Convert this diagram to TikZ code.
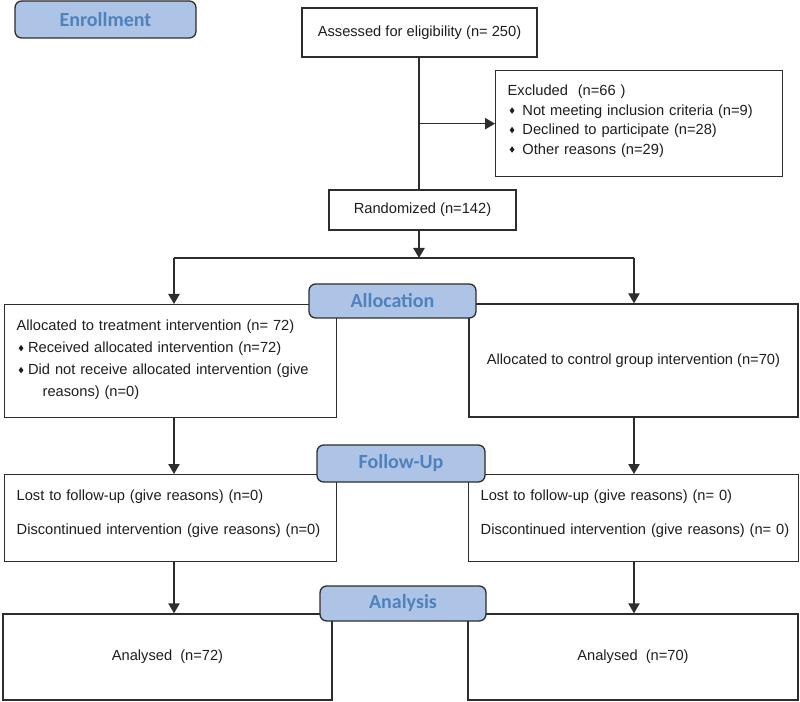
\documentclass[tikz,border=0pt]{standalone}
\usepackage{fontspec}
\setmainfont{Liberation Sans}
\newfontfamily\labelfont{Carlito}
\usetikzlibrary{arrows.meta}
\definecolor{linec}{RGB}{45,45,45}
\definecolor{labfill}{RGB}{174,196,230}
\definecolor{labtext}{RGB}{79,129,189}
\definecolor{txt}{RGB}{30,30,30}
\newcommand\dmd{\tikz[baseline=0pt]\fill[txt] (-1.8pt,3.4pt) -- (0pt,5.8pt) -- (1.8pt,3.4pt) -- (0pt,1.0pt) -- cycle;}
\begin{document}
\begin{tikzpicture}[x=0.75pt,y=-0.75pt,
  phase/.style={draw=linec, line width=1pt, fill=labfill, rounded corners=5pt, text=labtext,
    font=\labelfont\bfseries\fontsize{15pt}{17pt}\selectfont, inner sep=0pt},
  cbox/.style={draw=linec, line width=1pt, fill=white, text=txt,
    font=\fontsize{11pt}{13pt}\selectfont, inner sep=0pt},
  lbox/.style={draw=linec, line width=1pt, fill=white, text=txt, anchor=north west,
    inner xsep=9pt, inner ysep=0pt, align=left},
  conn/.style={draw=linec, line width=1pt},
  arr/.style={draw=linec, line width=1pt, -{Triangle[length=7.5pt,width=8.5pt]}}]
\useasboundingbox (0,0) rectangle (800,702);

% boxes
\node[cbox, minimum width=176.25pt, minimum height=36.75pt] (assess) at (419.5,32.5) {Assessed for eligibility (n= 250)};
\node[lbox, font=\fontsize{11pt}{14.6pt}\selectfont, text width=197.25pt, text height=18.75pt, text depth=60.75pt] (excl) at (495,70)
 {Excluded\ \ (n=66\ )\\
  \hspace*{1.5pt}\dmd\hspace{6pt}Not meeting inclusion criteria (n=9)\\
  \hspace*{1.5pt}\dmd\hspace{6pt}Declined to participate (n=28)\\
  \hspace*{1.5pt}\dmd\hspace{6pt}Other reasons (n=29)};
\node[cbox, minimum width=140.25pt, minimum height=30pt] (rand) at (422.5,210) {Randomized (n=142)};

\node[lbox, font=\fontsize{11pt}{16.5pt}\selectfont, text width=231pt, text height=19.5pt, text depth=65.25pt] (allocL) at (4,304)
 {\mbox{Allocated to treatment intervention (n= 72)}\\
  \hspace*{1.5pt}\dmd\hspace{3.5pt}\mbox{Received allocated intervention (n=72)}\\
  \hspace*{1.5pt}\dmd\hspace{3.5pt}\mbox{Did not receive allocated intervention (give}\\
  \hspace*{19.5pt}reasons) (n=0)};
\node[cbox, minimum width=246.75pt, minimum height=84.75pt] (allocR) at (633.5,360.5) {Allocated to control group intervention (n=70)};

\node[lbox, font=\fontsize{11pt}{25.5pt}\selectfont, text width=231pt, text height=19.5pt, text depth=45.75pt] (fuL) at (4,474)
 {\mbox{Lost to follow-up (give reasons) (n=0)}\\
  \mbox{Discontinued intervention (give reasons) (n=0)}};
\node[lbox, font=\fontsize{11pt}{25.5pt}\selectfont, text width=229.5pt, text height=19.5pt, text depth=45.75pt] (fuR) at (468,474)
 {\mbox{Lost to follow-up (give reasons) (n= 0)}\\
  \mbox{Discontinued intervention (give reasons) (n= 0)}};

\node[cbox, minimum width=246.75pt, minimum height=64.5pt] (anL) at (167.5,657) {Analysed\ \ (n=72)};
\node[cbox, minimum width=247.5pt, minimum height=64.5pt] (anR) at (633,657) {Analysed\ \ (n=70)};

% phase labels
\node[phase, minimum width=135.75pt, minimum height=27.75pt] (enroll) at (105.5,19.5) {Enrollment};
\node[phase, minimum width=125.25pt, minimum height=25.5pt] (allocLab) at (392.5,301) {Allocation};
\node[phase, minimum width=126pt, minimum height=27.75pt] (fuLab) at (401,463.5) {Follow-Up};
\node[phase, minimum width=124.5pt, minimum height=26.25pt] (anLab) at (403,603.5) {Analysis};

% connectors
\coordinate (sp) at (419,258);
\coordinate (cl) at (174,258);
\coordinate (cr) at (634,258);
\coordinate (ex) at (sp |- excl.west);
\draw[conn] (assess.south -| sp) -- (rand.north -| sp);
\draw[arr] (ex) -- (excl.west);
\draw[arr] (rand.south -| sp) -- (sp);
\draw[conn] (cl) -- (cr);
\draw[arr] (cl) -- (cl |- allocL.north);
\draw[arr] (cr) -- (cr |- allocR.north);
\draw[arr] (allocL.south -| cl) -- (fuL.north -| cl);
\draw[arr] (allocR.south -| cr) -- (fuR.north -| cr);
\draw[arr] (fuL.south -| cl) -- (anL.north -| cl);
\draw[arr] (fuR.south -| cr) -- (anR.north -| cr);
\end{tikzpicture}
\end{document}
